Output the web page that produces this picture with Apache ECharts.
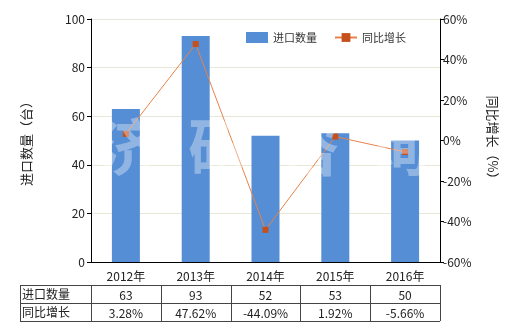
<!DOCTYPE html>
<html><head><meta charset="utf-8">
<script src="https://cdn.jsdelivr.net/npm/echarts@6/dist/echarts.min.js"></script>
<style>html,body{margin:0;padding:0;background:#fff}#c{width:520px;height:330px}</style>
</head><body><div id="c"></div>
<script>
const categories = ['2012年','2013年','2014年','2015年','2016年'];
const importQty = [63, 93, 52, 53, 50];
const yoyGrowth = [3.28, 47.62, -44.09, 1.92, -5.66];
const leftTicks = [0, 20, 40, 60, 80, 100];
const rightTicks = [-60, -40, -20, 0, 20, 40, 60];
const seriesNames = ['进口数量', '同比增长'];
const FONT = '"Noto Sans CJK SC", "Microsoft YaHei", sans-serif';

const chart = echarts.init(document.getElementById('c'), null, {renderer: 'canvas'});
const option = {
  animation: false,
  textStyle: {fontFamily: FONT},
  grid: {left: 91, right: 80, top: 19, bottom: 68},
  legend: {
    right: 109, top: 27, itemGap: 17, itemWidth: 22, itemHeight: 11,
    textStyle: {fontFamily: FONT, fontSize: 11, color: '#333'},
    data: [{name: seriesNames[0], icon: 'rect'}, {name: seriesNames[1]}]
  },
  xAxis: {
    type: 'category', data: categories,
    axisLine: {lineStyle: {color: '#000'}},
    axisTick: {show: false},
    axisLabel: {fontFamily: FONT, fontSize: 12, color: '#222', margin: 8}
  },
  yAxis: [{
    type: 'value', min: leftTicks[0], max: leftTicks[leftTicks.length-1], interval: 20,
    name: '进口数量（台）', nameLocation: 'middle', nameGap: 58, nameRotate: 90,
    nameTextStyle: {fontFamily: FONT, fontSize: 13, color: '#222'},
    axisLine: {show: true, lineStyle: {color: '#000'}},
    axisTick: {show: true, length: 4, inside: false, lineStyle: {color: '#000'}},
    axisLabel: {fontFamily: FONT, fontSize: 12, color: '#222', margin: 6},
    splitLine: {show: true, lineStyle: {color: '#e8e8d8'}}
  }, {
    type: 'value', min: rightTicks[0], max: rightTicks[rightTicks.length-1], interval: 20,
    name: '同比增长（%）', nameLocation: 'middle', nameGap: 46, nameRotate: -90,
    nameTextStyle: {fontFamily: FONT, fontSize: 13, color: '#222'},
    axisLine: {show: true, lineStyle: {color: '#000'}},
    axisTick: {show: true, length: 4, lineStyle: {color: '#000'}},
    axisLabel: {fontFamily: FONT, fontSize: 12, color: '#222', margin: 3, formatter: '{value}%'},
    splitLine: {show: false}
  }],
  series: [{
    name: seriesNames[0], type: 'bar', data: importQty, barWidth: 28,
    itemStyle: {color: '#558ed5'}
  }, {
    name: seriesNames[1], type: 'line', yAxisIndex: 1, data: yoyGrowth,
    symbol: 'rect', symbolSize: 6,
    lineStyle: {color: '#e6834a', width: 1},
    itemStyle: {color: '#c5501c'}
  }]
};
chart.setOption(option);

const els = [];
// faint watermark
els.push({
  type: 'text', z: 10, left: 98, top: 116,
  style: {text: '济  研  咨  询', font: 'bold 62px ' + FONT, fill: 'rgba(255,255,255,0.35)'}
});

// data table aligned to category axis
const centers = [];
for (let i = 0; i < categories.length; i++) {
  centers.push(chart.convertToPixel({xAxisIndex: 0}, i));
}
const step = centers[1] - centers[0];
const tableLeft = 20, tableTop = 285, rowH = 18;
const colEdges = [tableLeft].concat(centers.map(b => b - step / 2)).concat([centers[centers.length-1] + step / 2]);
const tableRight = colEdges[colEdges.length - 1];
const rows = [
  {label: seriesNames[0], vals: importQty.map(v => String(v))},
  {label: seriesNames[1], vals: yoyGrowth.map(v => v.toFixed(2) + '%')}
];
const lineStyle = {stroke: '#444', lineWidth: 1};
for (let r = 0; r <= rows.length; r++) {
  const y = tableTop + r * rowH + 0.5;
  els.push({type: 'line', shape: {x1: tableLeft, y1: y, x2: tableRight, y2: y}, style: lineStyle});
}
colEdges.forEach(x => {
  const xx = Math.round(x) + 0.5;
  els.push({type: 'line', shape: {x1: xx, y1: tableTop, x2: xx, y2: tableTop + rows.length * rowH}, style: lineStyle});
});
rows.forEach((row, r) => {
  const cy = tableTop + r * rowH + rowH / 2 + 0.5;
  els.push({type: 'text', x: tableLeft + 2, y: cy,
    style: {text: row.label, font: '12px ' + FONT, fill: '#222', textVerticalAlign: 'middle', textAlign: 'left'}});
  row.vals.forEach((v, i) => {
    els.push({type: 'text', x: centers[i], y: cy + 1,
      style: {text: v, font: '12px ' + FONT, fill: '#222', textVerticalAlign: 'middle', textAlign: 'center'}});
  });
});
chart.setOption({graphic: {elements: els}});
</script>
</body></html>
